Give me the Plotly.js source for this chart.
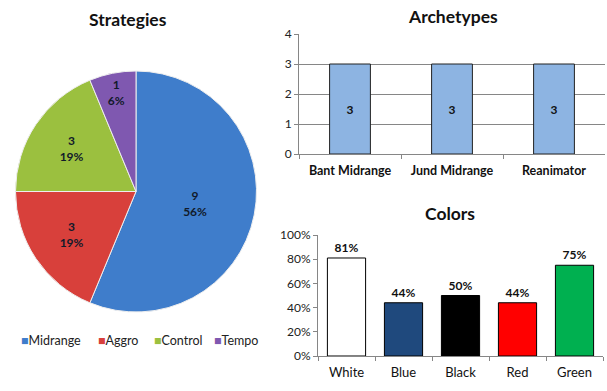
<!DOCTYPE html>
<html><head><meta charset="utf-8">
<script src="https://cdn.plot.ly/plotly-3.0.1.min.js"></script>
<style>html,body{margin:0;padding:0;background:#fff}#c{width:607px;height:391px}</style>
</head><body><div id="c"></div>
<script>
const strategyLabels = ["Midrange", "Aggro", "Control", "Tempo"];
const strategyValues = [9, 3, 3, 1];
const strategyColors = ["#3F7DCB", "#D8403B", "#9BC03F", "#7F58B0"];

const archetypeLabels = ["Bant Midrange", "Jund Midrange", "Reanimator"];
const archetypeValues = [3, 3, 3];

const colorLabels = ["White", "Blue", "Black", "Red", "Green"];
const colorValues = [81, 44, 50, 44, 75];
const colorFills = ["#FFFFFF", "#1F497D", "#000000", "#FF0000", "#00B050"];

const F = "Lato, 'Open Sans', sans-serif";
const W = 607, H = 391;
const px = v => v / W, py = v => 1 - v / H;

const pie = {
  type: "pie", labels: strategyLabels, values: strategyValues, sort: false,
  direction: "clockwise", rotation: 0,
  marker: {colors: strategyColors, line: {color: "#eeeeee", width: 1}},
  texttemplate: "<b>%{value}<br>%{percent:.0%}</b>", textposition: "inside",
  insidetextorientation: "horizontal",
  textfont: {family: F, size: 12, color: "#111a2a"},
  domain: {x: [px(15), px(257)], y: [py(312), py(71)]},
  hoverinfo: "none", showlegend: false
};
const arch = {
  type: "bar", x: archetypeLabels, y: archetypeValues, xaxis: "x", yaxis: "y",
  width: 0.4, marker: {color: "#8DB4E2", line: {color: "#222", width: 1}},
  text: archetypeValues.map(v => "<b>" + v + "</b>"), textposition: "inside",
  insidetextanchor: "middle", textfont: {family: F, size: 12, color: "#111"},
  showlegend: false, hoverinfo: "none"
};
const cols = {
  type: "bar", x: colorLabels, y: colorValues, xaxis: "x2", yaxis: "y2",
  width: 0.67, marker: {color: colorFills, line: {color: "#000", width: 1}},
  text: colorValues.map(v => "<b>" + v + "%</b>"), textposition: "outside",
  cliponaxis: false, textfont: {family: F, size: 12, color: "#111"},
  showlegend: false, hoverinfo: "none"
};

const legendX = [19, 96, 152, 212];
const legendAnns = strategyLabels.map((lab, i) => ({
  text: '<span style="color:' + strategyColors[i] + '">■</span>' + lab,
  x: px(legendX[i]), y: py(340), xref: "paper", yref: "paper", xanchor: "left",
  yanchor: "middle", showarrow: false, font: {family: F, size: 12.5, color: "#222"}
}));

const layout = {
  width: W, height: H, margin: {l: 0, r: 0, t: 0, b: 0},
  paper_bgcolor: "#fff", plot_bgcolor: "#fff",
  font: {family: F, size: 12, color: "#222"},
  bargap: 0, showlegend: false,
  xaxis: {domain: [px(299), px(605)], anchor: "y", showgrid: false, showline: true,
    linecolor: "#868686", ticks: "outside", tickson: "boundaries", tickcolor: "#868686", ticklen: 4,
    ticklabelstandoff: 5,
    tickfont: {family: F, size: 12.5, color: "#111", weight: "bold"}},
  yaxis: {domain: [py(154), py(34)], anchor: "x", range: [0, 4], dtick: 1,
    showgrid: true, gridcolor: "#868686", showline: true, linecolor: "#868686",
    ticks: "outside", tickcolor: "#868686", ticklen: 4, zeroline: false,
    tickfont: {family: F, size: 12, color: "#222"}},
  xaxis2: {domain: [px(318), px(603)], anchor: "y2", showgrid: false, showline: true,
    linecolor: "#868686", ticks: "outside", tickson: "boundaries", tickcolor: "#868686", ticklen: 4,
    ticklabelstandoff: 4,
    tickfont: {family: F, size: 13, color: "#111"}},
  yaxis2: {domain: [py(356), py(235)], anchor: "x2", range: [0, 100], dtick: 20,
    ticksuffix: "%", showgrid: false, showline: true, linecolor: "#868686",
    ticks: "outside", tickcolor: "#868686", ticklen: 4, zeroline: false,
    tickfont: {family: F, size: 12, color: "#222"}},
  annotations: [
    {text: "<b>Strategies</b>", x: px(128), y: py(20), xref: "paper", yref: "paper",
      xanchor: "center", yanchor: "middle",
      showarrow: false, font: {family: F, size: 17.5, color: "#111"}},
    {text: "<b>Archetypes</b>", x: px(453), y: py(17), xref: "paper", yref: "paper",
      xanchor: "center", yanchor: "middle",
      showarrow: false, font: {family: F, size: 17.5, color: "#111"}},
    {text: "<b>Colors</b>", x: px(450), y: py(213), xref: "paper", yref: "paper",
      xanchor: "center", yanchor: "middle",
      showarrow: false, font: {family: F, size: 17.5, color: "#111"}}
  ].concat(legendAnns)
};
Plotly.newPlot("c", [pie, arch, cols], layout, {staticPlot: true});
</script></body></html>
